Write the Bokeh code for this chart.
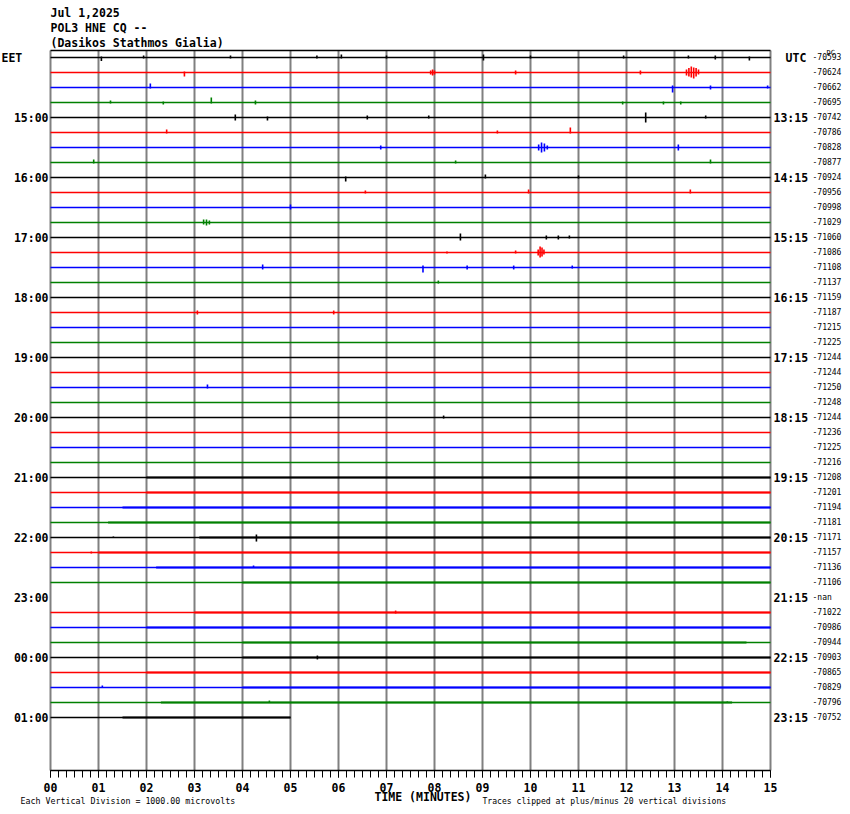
import math
from bokeh.plotting import figure
from bokeh.models import (ColumnDataSource, Range1d, FixedTicker, PrintfTickFormatter, LinearAxis)
from bokeh.core.properties import value
from bokeh.embed import file_html
from bokeh.resources import INLINE

# ---------------- data ----------------
title_lines = ["Jul 1,2025", "POL3 HNE CQ --", "(Dasikos Stathmos Gialia)"]
local_zone = "EET"
utc_zone = "UTC"
local_hours = ["15:00", "16:00", "17:00", "18:00", "19:00", "20:00",
               "21:00", "22:00", "23:00", "00:00", "01:00"]
utc_hours = ["13:15", "14:15", "15:15", "16:15", "17:15", "18:15",
             "19:15", "20:15", "21:15", "22:15", "23:15"]
NAN = float("nan")
trace_dc = [-70593, -70624, -70662, -70695, -70742, -70786, -70828, -70877,
            -70924, -70956, -70998, -71029, -71060, -71086, -71108, -71137,
            -71159, -71187, -71215, -71225, -71244, -71244, -71250, -71248,
            -71244, -71236, -71225, -71216, -71208, -71201, -71194, -71181,
            -71171, -71157, -71136, -71106, NAN, -71022, -70986, -70944,
            -70903, -70865, -70829, -70796, -70752]
last_trace_end_minute = 5.0
minutes = list(range(16))
dc_tag = "DC"
footer_left = "Each Vertical Division = 1000.00 microvolts"
footer_axis = "TIME (MINUTES)"
footer_right = "Traces clipped at plus/minus 20 vertical divisions"

# spikes: trace row, minute, upward and downward excursion (in trace spacings)
spike_row = [0, 0, 0, 0, 0, 0, 0, 0, 0, 0, 0, 0,
             1, 1, 1, 1, 1, 1, 1, 1, 1, 1, 1, 1,
             2, 2, 2, 2,
             3, 3, 3, 3, 3, 3, 3,
             4, 4, 4, 4, 4, 4,
             5, 5, 5,
             6, 6, 6, 6, 6, 6,
             7, 7, 7,
             8, 8, 8,
             9, 9, 9,
             10,
             11, 11, 11,
             12, 12, 12, 12,
             13, 13, 13, 13, 13, 13,
             14, 14, 14, 14, 14,
             15, 17, 17, 22, 24, 32, 32, 33, 34, 37, 40, 42, 43, 43]
spike_minute = [1.06, 1.94, 3.75, 5.55, 6.06, 7.00, 9.02, 10.00, 11.94, 13.29, 13.85, 14.56,
                13.25, 13.30, 13.35, 13.40, 13.45, 13.50, 7.92, 7.96, 8.00, 9.69, 2.79, 12.29,
                2.08, 12.96, 13.75, 14.94,
                1.25, 2.35, 3.35, 4.27, 11.92, 12.77, 13.13,
                3.85, 4.52, 6.60, 7.88, 12.40, 13.65,
                2.42, 9.31, 10.83,
                6.88, 10.17, 10.23, 10.29, 10.35, 13.08,
                0.90, 8.44, 13.75,
                6.15, 9.06, 11.00,
                6.56, 9.96, 13.33,
                5.00,
                3.19, 3.25, 3.31,
                8.54, 10.33, 10.58, 10.81,
                8.26, 9.69, 10.16, 10.20, 10.24, 10.28,
                4.42, 7.76, 8.68, 9.65, 10.87,
                8.08, 3.06, 5.90, 3.27, 8.19, 4.29, 1.31, 0.85, 4.23, 7.19, 5.56, 1.08, 4.56, 14.10]
spike_up = [0.07, 0.13, 0.13, 0.13, 0.20, 0.13, 0.20, 0.13, 0.13, 0.13, 0.13, 0.07,
            0.20, 0.30, 0.40, 0.33, 0.30, 0.20, 0.13, 0.20, 0.13, 0.13, 0.07, 0.13,
            0.27, 0.13, 0.13, 0.13,
            0.13, 0.07, 0.33, 0.13, 0.07, 0.07, 0.07,
            0.20, 0.07, 0.13, 0.13, 0.33, 0.13,
            0.20, 0.13, 0.33,
            0.13, 0.20, 0.33, 0.27, 0.13, 0.20,
            0.20, 0.13, 0.20,
            0.07, 0.20, 0.13,
            0.13, 0.20, 0.20,
            0.20,
            0.20, 0.20, 0.13,
            0.27, 0.13, 0.13, 0.13,
            0.07, 0.13, 0.20, 0.40, 0.33, 0.20,
            0.20, 0.13, 0.13, 0.13, 0.13,
            0.13, 0.13, 0.13, 0.20, 0.13, 0.20, 0.07, 0.07, 0.13, 0.13, 0.13, 0.13, 0.13, 0.07]
spike_down = [0.23, 0.07, 0.07, 0.07, 0.07, 0.07, 0.20, 0.07, 0.07, 0.07, 0.13, 0.20,
              0.20, 0.27, 0.33, 0.40, 0.27, 0.13, 0.13, 0.20, 0.13, 0.13, 0.27, 0.13,
              0.07, 0.33, 0.13, 0.07,
              0.07, 0.13, 0.07, 0.13, 0.13, 0.13, 0.13,
              0.20, 0.20, 0.13, 0.07, 0.33, 0.07,
              0.07, 0.07, 0.07,
              0.13, 0.20, 0.33, 0.27, 0.13, 0.20,
              0.07, 0.07, 0.07,
              0.27, 0.07, 0.07,
              0.07, 0.07, 0.07,
              0.13,
              0.13, 0.20, 0.13,
              0.20, 0.13, 0.13, 0.07,
              0.07, 0.07, 0.20, 0.33, 0.27, 0.13,
              0.13, 0.33, 0.13, 0.13, 0.07,
              0.07, 0.13, 0.13, 0.07, 0.07, 0.27, 0.00, 0.07, 0.00, 0.07, 0.13, 0.00, 0.00, 0.00]

# sections where the background noise makes the trace look thick
busy_row = [28, 29, 30, 31, 32, 33, 34, 35, 37, 38, 39, 40, 41, 42, 43, 44]
busy_start = [2.0, 2.0, 1.5, 1.2, 3.1, 1.0, 2.2, 4.0, 3.0, 2.0, 4.0, 4.0, 2.0, 4.0, 2.3, 1.5]
busy_end = [15.0, 15.0, 15.0, 15.0, 15.0, 15.0, 15.0, 15.0, 15.0, 15.0, 14.5, 15.0, 15.0, 15.0, 14.2, 5.0]

# ---------------- layout helpers (page pixels -> data) ----------------
trace_colors = ["#000000", "#ff0000", "#0000ff", "#008000"]
MONO = "DejaVu Sans Mono"
n_rows = len(trace_dc)
rows_per_hour = 4
W, H = 842, 806
X0, PXM = 50, 48      # page x of minute 0, pixels per minute
Y0, PXR = 57, 15      # page y of row 0, pixels per row


def px_x(page_x):
    return (page_x - X0) / PXM


def px_y(page_y):
    return (page_y - Y0) / PXR


top_row = px_y(50)
bottom_row = px_y(770)

p = figure(width=W, height=H, output_backend="svg", toolbar_location=None,
           x_range=Range1d(px_x(0), px_x(W)),
           y_range=Range1d(px_y(H), px_y(0)),
           x_axis_location=None, y_axis_location=None,
           min_border=0)
p.outline_line_color = None
p.background_fill_color = "white"
p.border_fill_color = "white"
p.xgrid.visible = False
p.ygrid.visible = False

# minute grid lines and top border
p.segment(x0=minutes, y0=[top_row] * len(minutes), x1=minutes, y1=[bottom_row] * len(minutes),
          line_color="#808080", line_width=2)
p.segment(x0=[minutes[0]], y0=[top_row], x1=[minutes[-1]], y1=[top_row],
          line_color="black", line_width=1.5)

# bottom time axis
xax = LinearAxis(fixed_location=bottom_row, bounds=(minutes[0], minutes[-1]),
                 ticker=FixedTicker(ticks=minutes, minor_ticks=[k / 6 for k in range(15 * 6 + 1)]),
                 formatter=PrintfTickFormatter(format="%02d"),
                 major_tick_in=0, major_tick_out=7, minor_tick_in=0, minor_tick_out=7,
                 axis_line_color="black", axis_line_width=1.5,
                 major_tick_line_color="black", minor_tick_line_color="black",
                 major_label_text_font=MONO, major_label_text_font_style="bold",
                 major_label_text_font_size="11.5px", major_label_text_color="black",
                 major_label_standoff=5)
p.add_layout(xax, "below")


def side_axis(loc, ticks, texts, size, bold, standoff):
    return LinearAxis(fixed_location=loc,
                      ticker=FixedTicker(ticks=ticks, minor_ticks=[]),
                      major_label_overrides={t: s for t, s in zip(ticks, texts)},
                      major_tick_in=0, major_tick_out=0, minor_tick_in=0, minor_tick_out=0,
                      axis_line_color=None, major_label_standoff=standoff,
                      major_label_text_font=MONO, major_label_text_font_size=size,
                      major_label_text_font_style="bold" if bold else "normal",
                      major_label_text_color="black")


hour_rows = [rows_per_hour * (k + 1) for k in range(len(local_hours))]
p.add_layout(side_axis(minutes[0], hour_rows, local_hours, "11.5px", True, 2), "left")
p.add_layout(side_axis(minutes[-1], hour_rows, utc_hours, "11.5px", True, 3), "right")
dc_text = ["-nan" if math.isnan(v) else str(v) for v in trace_dc]
p.add_layout(side_axis(px_x(808), list(range(n_rows)), dc_text, "8px", False, 4), "right")

# traces
tr = dict(x0=[], x1=[], y=[], c=[])
for i, dc in enumerate(trace_dc):
    if math.isnan(dc):
        continue
    tr["x0"].append(minutes[0])
    tr["x1"].append(last_trace_end_minute if i == n_rows - 1 else minutes[-1])
    tr["y"].append(i)
    tr["c"].append(trace_colors[i % 4])
p.segment(x0="x0", y0="y", x1="x1", y1="y", color="c", line_width=1.4,
          source=ColumnDataSource(tr))

bz = dict(x0=busy_start, x1=busy_end, y=busy_row, c=[trace_colors[r % 4] for r in busy_row])
p.segment(x0="x0", y0="y", x1="x1", y1="y", color="c", line_width=2.0,
          source=ColumnDataSource(bz))

sp = dict(x=spike_minute,
          y0=[r - u for r, u in zip(spike_row, spike_up)],
          y1=[r + d for r, d in zip(spike_row, spike_down)],
          c=[trace_colors[r % 4] for r in spike_row])
p.segment(x0="x", y0="y0", x1="x", y1="y1", color="c", line_width=1.6,
          source=ColumnDataSource(sp))


def texts(items, size, bold, align="left"):
    src = ColumnDataSource(dict(x=[px_x(a) for a, b, t in items],
                                y=[px_y(b) for a, b, t in items],
                                t=[t for a, b, t in items]))
    p.text(x="x", y="y", text="t", source=src, text_font=value(MONO),
           text_font_size=size, text_font_style="bold" if bold else "normal",
           text_align=align, text_baseline="middle", text_color="black")


# title
texts([(50, 12.5, title_lines[0]), (50, 27, title_lines[1]), (50, 42, title_lines[2])],
      "11.5px", True)
texts([(1, Y0, local_zone)], "11.5px", True)
texts([(795.5, Y0, utc_zone)], "11.5px", True, "center")
texts([(826, 52.5, dc_tag)], "7px", False)
# footer
texts([(20, 800, footer_left)], "8.3px", False)
texts([(374, 796.5, footer_axis)], "11.5px", True)
texts([(482, 800, footer_right)], "8.1px", False)

open("out.html", "w").write(file_html(p, INLINE))
